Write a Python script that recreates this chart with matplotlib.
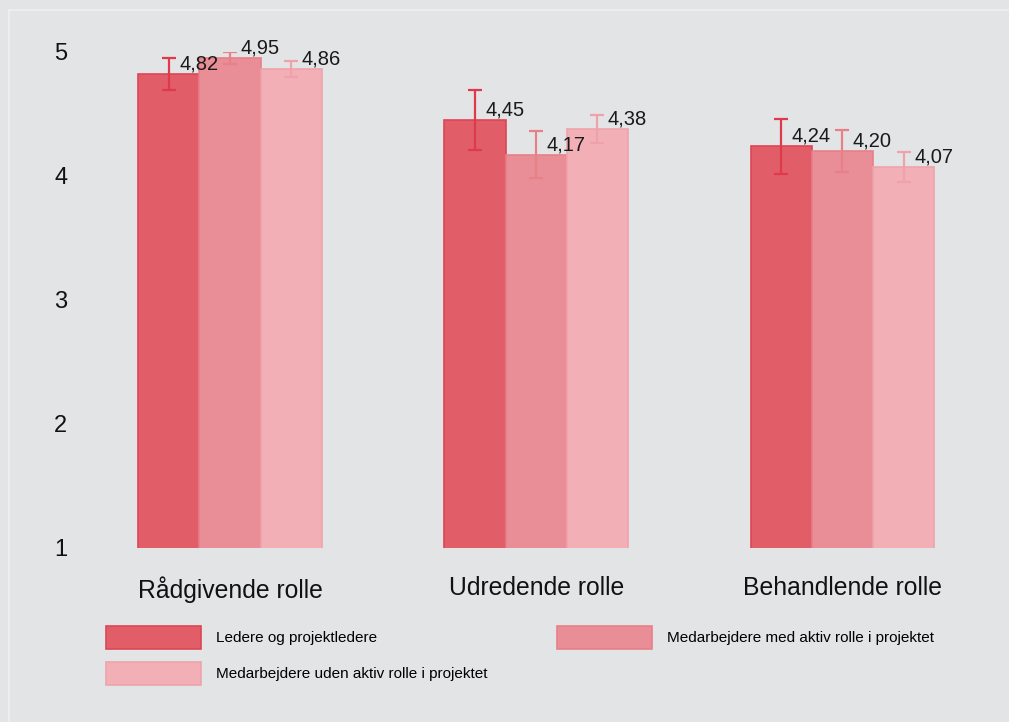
import numpy as np
import matplotlib
matplotlib.use("Agg")
import matplotlib.pyplot as plt
from matplotlib.patches import Rectangle

plt.rcParams['font.family'] = ['Liberation Sans', 'DejaVu Sans']

categories = ['Rådgivende rolle', 'Udredende rolle', 'Behandlende rolle']
series_names = ['Ledere og projektledere',
                'Medarbejdere med aktiv rolle i projektet',
                'Medarbejdere uden aktiv rolle i projektet']
ledere = [4.82, 4.45, 4.24]
med_aktiv = [4.95, 4.17, 4.20]
uden_aktiv = [4.86, 4.38, 4.07]
err_ledere = [0.13, 0.24, 0.22]
err_med = [0.05, 0.19, 0.17]
err_uden = [0.065, 0.11, 0.12]
y_ticks = [1, 2, 3, 4, 5]

bg = '#e3e4e6'
fills = ['#e15e69', '#e98e96', '#f2b0b6']
edges = ['#dc4654', '#e7808a', '#eea3aa']
err_cols = ['#de3a4a', '#e8808a', '#efa2a9']

fig = plt.figure(figsize=(10.09, 7.22), dpi=100, facecolor=bg)
fig.patches.append(Rectangle((9 / 1009, -0.1), 1.2, 1 - 10 / 722 + 0.1,
                             transform=fig.transFigure, fill=False,
                             edgecolor='#eeeff0', linewidth=1.2))
ax = fig.add_axes([77 / 1009, 1 - 548 / 722, 918.5 / 1009, 496 / 722])
ax.set_facecolor(bg)

x = np.arange(len(categories))
w = 0.2
handles = []
for i, (vals, errs) in enumerate([(ledere, err_ledere), (med_aktiv, err_med), (uden_aktiv, err_uden)]):
    pos = x + (i - 1) * w
    b = ax.bar(pos, vals, width=w, color=fills[i], edgecolor=edges[i], linewidth=1.2,
               label=series_names[i])
    handles.append(b)
    ax.errorbar(pos, vals, yerr=errs, fmt='none', ecolor=err_cols[i], elinewidth=1.6,
                capsize=4.7, capthick=1.6)
    for p, v in zip(pos, vals):
        ax.annotate(f"{v:.2f}".replace('.', ','), (p, v), xytext=(7.5, 3.5),
                    textcoords='offset points', ha='left', va='baseline',
                    fontsize=14.5, color='#1a1a1a', annotation_clip=False)

ax.set_xlim(-0.5, 2.5)
ax.set_ylim(1, 5)
ax.set_yticks(y_ticks)
ax.set_xticks(x)
ax.set_xticklabels(categories, fontsize=17.8)
ax.tick_params(axis='x', length=0, pad=20.5, colors='#111111')
ax.tick_params(axis='y', length=0, pad=7, labelsize=17, colors='#111111')
for s in ax.spines.values():
    s.set_visible(False)

fig.legend([handles[0], handles[2], handles[1]],
           [series_names[0], series_names[2], series_names[1]],
           ncol=2, loc='upper left', bbox_to_anchor=(106 / 1009, 1 - 626 / 722),
           frameon=False, fontsize=11, handlelength=6.2, handleheight=1.95,
           handletextpad=1.0, columnspacing=4.55, labelspacing=0.82,
           borderpad=0, borderaxespad=0)

fig.savefig('out.png', dpi=100, facecolor=bg)
